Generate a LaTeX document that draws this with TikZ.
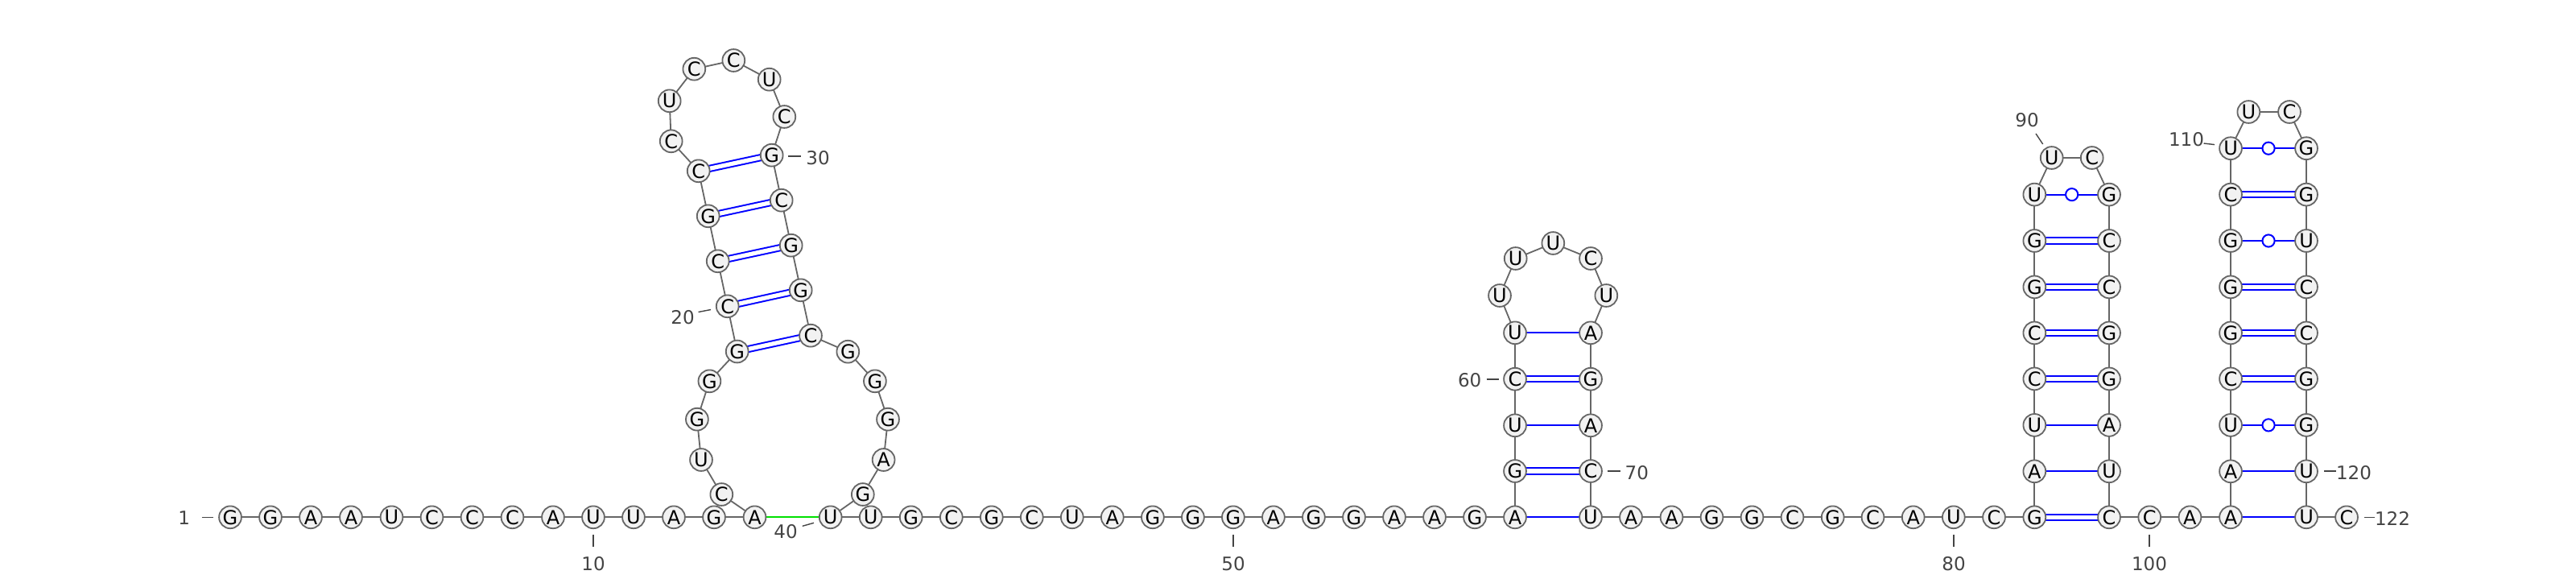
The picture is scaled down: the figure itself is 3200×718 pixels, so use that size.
\documentclass[tikz,border=0pt]{standalone}
\usepackage{fontspec}
\setmainfont{DejaVu Sans}
\usetikzlibrary{backgrounds,calc}
\definecolor{ntline}{HTML}{666666}
\definecolor{ntfill}{HTML}{F2F2F2}
\definecolor{lbl}{HTML}{444444}
\definecolor{bondblue}{HTML}{0000FF}
\definecolor{bondgreen}{HTML}{00E000}
\tikzset{
  nt/.style={circle,draw=ntline,fill=ntfill,line width=0.9pt,minimum size=13.9pt,inner sep=0pt,outer sep=0pt,font=\fontsize{12}{12}\selectfont,text=black},
  backbone/.style={draw=ntline,line width=0.9pt},
  single/.style={draw=bondblue,line width=1pt},
  dbl/.style={draw=bondblue,line width=1pt,double=white,double distance=2.6pt},
  noncanon/.style={draw=bondgreen,line width=1.1pt},
  wob/.style={circle,draw=bondblue,fill=white,line width=1pt,minimum size=7.6pt,inner sep=0pt,outer sep=0pt},
  numlab/.style={inner sep=0pt,outer sep=0pt,text=lbl,font=\fontsize{11.5}{11.5}\selectfont},
  tick/.style={draw=lbl,line width=0.7pt}
}
\begin{document}
\begin{tikzpicture}[x=0.5pt,y=-0.5pt]
\useasboundingbox (0,0) rectangle (3200,718);
\foreach \i/\b/\xx/\yy in {
1/G/286/642.3,2/G/336/642.3,3/A/386/642.3,4/A/436/642.3,5/U/486.5/642.3,6/C/536.5/642.3,7/C/586.5/642.3,8/C/636.5/642.3,9/A/687/642.3,10/U/737/642.3,
11/U/787/642.3,12/A/837/642.3,13/G/887/642.3,14/A/937.5/642.3,15/C/896.3/614,16/U/871/571,17/G/865.9/520.7,18/G/881.4/473.3,19/G/915.7/436.5,20/C/903.7/380.3,
21/C/891.7/324.3,22/G/879.7/268.3,23/C/867.7/212.3,24/C/833.7/175.3,25/U/831.7/125.3,26/C/862.3/85.7,27/C/911.3/75,28/U/955.7/98.7,29/C/974.3/145,30/G/958.7/192.7,
31/C/970.7/248.7,32/G/982.7/304.7,33/G/994.7/360.3,34/C/1007/416.7,35/G/1053.3/436.7,36/G/1086.9/473.3,37/G/1103/520.7,38/A/1097.6/571,39/G/1071.8/614,40/U/1031.7/642.3,
41/U/1081.7/642.3,42/G/1131.7/642.3,43/C/1181.8/642.3,44/G/1231.8/642.3,45/C/1281.8/642.3,46/U/1331.8/642.3,47/A/1381.8/642.3,48/G/1431.9/642.3,49/G/1481.9/642.3,50/G/1531.9/642.3,
51/A/1581.9/642.3,52/G/1631.9/642.3,53/G/1682/642.3,54/A/1732/642.3,55/A/1782/642.3,56/G/1832/642.3,57/A/1882/642.3,58/G/1882/585,59/U/1882/528.3,60/C/1882/470.7,
61/U/1882/413.3,62/U/1863/367,63/U/1882.7/321,64/U/1929.3/302,65/C/1976/321,66/U/1995.3/367,67/A/1976/413.3,68/G/1976/470.7,69/A/1976/528.3,70/C/1976/585,
71/U/1976/642.3,72/A/2026/642.3,73/A/2076.5/642.3,74/G/2126.5/642.3,75/G/2176.5/642.3,76/C/2226.5/642.3,77/G/2276.7/642.3,78/C/2326.5/642.3,79/A/2376.7/642.3,80/U/2426.8/642.3,
81/C/2477/642.3,82/G/2527.3/642.3,83/A/2527.3/585.3,84/U/2527.3/527.9,85/C/2527.3/470.4,86/C/2527.3/413.4,87/G/2527.3/356.4,88/G/2527.3/299,89/U/2527.3/241.6,90/U/2548.7/196,
91/C/2598.7/196,92/G/2620/241.6,93/C/2620/299,94/C/2620/356.4,95/G/2620/413.4,96/G/2620/470.4,97/A/2620/527.9,98/U/2620/585.3,99/C/2620/642.3,100/C/2670.2/642.3,
101/A/2720.4/642.3,102/A/2771/642.3,103/A/2771/585.3,104/U/2771/527.9,105/C/2771/470.4,106/G/2771/413.4,107/G/2771/356.4,108/G/2771/299,109/C/2771/241.6,110/U/2771/184.2,
111/U/2793.3/139,112/C/2844/139,113/G/2865/184.2,114/G/2865/241.6,115/U/2865/299,116/C/2865/356.4,117/C/2865/413.4,118/G/2865/470.4,119/G/2865/527.9,120/U/2865/585.3,
121/U/2865/642.3,122/C/2915/642.3}
  \node[nt] (n\i) at (\xx,\yy) {\b};
% base-pair wobble markers
\foreach \a/\c in {89/92,104/119,108/115,110/113}
  \node[wob] (w\a) at ($(n\a)!0.5!(n\c)$) {};
\begin{scope}[on background layer]
  \foreach \i [remember=\i as \p (initially 1)] in {2,...,122}
    \draw[backbone] (n\p.center) -- (n\i.center);
  \foreach \a/\c in {57/71,59/69,61/67,83/98,84/97,102/121,103/120,89/92,104/119,108/115,110/113}
    \draw[single] (n\a.center) -- (n\c.center);
  \foreach \a/\c in {19/34,20/33,21/32,22/31,23/30,58/70,60/68,82/99,85/96,86/95,87/94,88/93,105/118,106/117,107/116,109/114}
    \draw[dbl] (n\a.center) -- (n\c.center);
  \draw[noncanon] (n14.center) -- (n40.center);
\end{scope}
% position labels
\foreach \t/\lx/\ly/\ax/\ay/\bx/\by in {
1/228.7/643.5/250.5/642.3/265/642.3,
10/737/700/737/663.7/737/678.7,
20/848/394/867.5/387.5/883/384.5,
30/1016/196/979/194/995/194,
40/976/660/996.8/653.3/1011/649.3,
50/1532/700.5/1532/663.7/1532/679,
60/1825.7/471.7/1846.7/471/1862/471,
70/2033.3/586.7/1996.7/585/2012.7/585,
80/2427/700.5/2427/663.7/2427/679,
90/2518/149/2529/166/2537.7/179,
100/2670/700.5/2670/663.7/2670/679,
110/2716/172.7/2737.5/178/2751/179.6,
120/2924/587/2887/585/2901.6/585,
122/2972/644/2937/642.3/2950/642.3}
{
  \node[numlab] (lab\t) at (\lx,\ly) {\t};
  \coordinate (ta\t) at (\ax,\ay);
  \coordinate (tb\t) at (\bx,\by);
  \draw[tick] (ta\t) -- (tb\t);
}
\end{tikzpicture}
\end{document}
